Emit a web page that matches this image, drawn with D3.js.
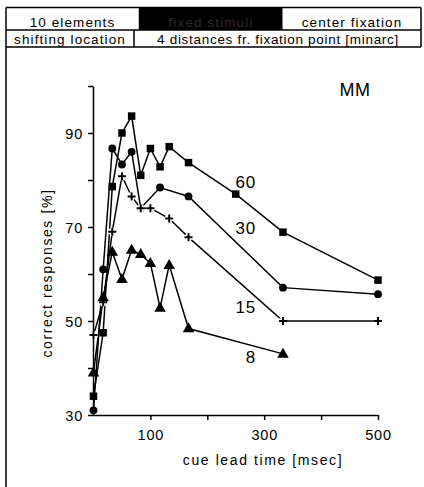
<!DOCTYPE html>
<html><head><meta charset="utf-8">
<script src="https://cdn.jsdelivr.net/npm/d3@7"></script>
<style>
html,body{margin:0;padding:0;background:#fff;}
svg{display:block;font-family:"Liberation Sans",Arial,sans-serif;}
</style></head>
<body>
<svg id="c" width="424" height="487"></svg>
<script>
// ---- data ----
const seriesNames = ["60", "30", "15", "8"];
const t60 = [0, 17, 33, 50, 67, 83, 100, 117, 133, 167, 250, 333, 500];
const v60 = [34, 47.5, 78.6, 90, 93.6, 81, 86.7, 82.8, 87.1, 83.7, 77, 68.9, 58.7];
const t30 = [0, 17, 33, 50, 67, 83, 117, 167, 333, 500];
const v30 = [31, 61, 86.7, 83.3, 86, 74, 78.4, 76.5, 57.1, 55.7];
const t15 = [0, 17, 33, 50, 67, 83, 100, 133, 167, 333, 500];
const v15 = [47, 54, 69, 80.8, 76.5, 74, 74, 71.8, 67.8, 50, 50];
const t8 = [0, 17, 33, 50, 67, 83, 100, 117, 133, 167, 333];
const v8 = [39, 55, 64.7, 58.9, 65.1, 64.2, 62.3, 52.8, 61.9, 48.4, 43];
const yTicks = [30, 40, 50, 60, 70, 80, 90, 100];
const yTickLabels = [30, 50, 70, 90];
const xTicks = [100, 200, 300, 400, 500];
const xTickLabels = [100, 300, 500];
const headerRow1 = ["10 elements", "fixed stimuli", "center fixation"];
const headerRow2 = ["shifting location", "4 distances fr. fixation point [minarc]"];
const subject = "MM";
const xTitle = "cue lead time [msec]";
const yTitle = "correct responses [%]";

const svg = d3.select("#c");

// ---- header ----
const hdr = svg.append("g").attr("stroke", "#000").attr("stroke-width", 1.5);
hdr.append("line").attr("x1", 6).attr("x2", 421).attr("y1", 7.5).attr("y2", 7.5);
hdr.append("line").attr("x1", 6).attr("x2", 421).attr("y1", 30).attr("y2", 30);
hdr.append("line").attr("x1", 6).attr("x2", 421).attr("y1", 47).attr("y2", 47);
hdr.append("line").attr("x1", 6).attr("x2", 6).attr("y1", 7.5).attr("y2", 487);
hdr.append("line").attr("x1", 421).attr("x2", 421).attr("y1", 7.5).attr("y2", 47);
hdr.append("line").attr("x1", 134).attr("x2", 134).attr("y1", 30).attr("y2", 47);
svg.append("rect").attr("x", 139.5).attr("y", 7.5).attr("width", 143).attr("height", 22.5).attr("fill", "#000");
hdr.append("line").attr("x1", 139.5).attr("x2", 139.5).attr("y1", 7.5).attr("y2", 30);

const htxt = svg.append("g").attr("font-size", 13.5).attr("text-anchor", "middle").attr("letter-spacing", 1.1);
htxt.append("text").attr("x", 72.5).attr("y", 27).text(headerRow1[0]);
htxt.append("text").attr("x", 211).attr("y", 27).attr("fill", "#2b2b2b").text(headerRow1[1]);
htxt.append("text").attr("x", 352).attr("y", 27).text(headerRow1[2]);
htxt.append("text").attr("x", 70).attr("y", 43.5).text(headerRow2[0]);
htxt.append("text").attr("x", 278).attr("y", 43.5).attr("letter-spacing", 0.7).text(headerRow2[1]);

// ---- scales ----
const x = d3.scaleLinear().domain([0, 500]).range([93.5, 378]);
const y = d3.scaleLinear().domain([30, 100]).range([415, 86]);

// ---- axes ----
const yAxis = d3.axisLeft(y).tickValues(yTicks).tickSize(5).tickSizeOuter(0)
  .tickFormat(d => yTickLabels.includes(d) ? d : "");
const gy = svg.append("g").attr("transform", "translate(93,0)").call(yAxis);
const xAxis = d3.axisBottom(x).tickValues(xTicks).tickSize(5).tickSizeOuter(0)
  .tickFormat(d => xTickLabels.includes(d) ? d : "");
const gx = svg.append("g").attr("transform", "translate(0,415)").call(xAxis);
gx.select(".domain").attr("d", "M93,0.5H378");
[gx, gy].forEach(g => {
  g.selectAll("path,line").attr("stroke", "#000").attr("stroke-width", 1.5);
  g.selectAll("text").attr("font-size", 14.5).attr("fill", "#000")
    .attr("font-family", "Liberation Sans, Arial, sans-serif").attr("letter-spacing", 0.8);
});
gy.selectAll("text").attr("x", -10).attr("dy", "0.36em");
gx.selectAll("text").attr("y", 15);

// titles
svg.append("text").attr("x", 263).attr("y", 465).attr("text-anchor", "middle")
  .attr("font-size", 14).attr("letter-spacing", 1.6).text(xTitle);
svg.append("text").attr("transform", "translate(52,273) rotate(-90)").attr("text-anchor", "middle")
  .attr("font-size", 14).attr("letter-spacing", 1.6).text(yTitle);
svg.append("text").attr("x", 355).attr("y", 96).attr("text-anchor", "middle")
  .attr("font-size", 18).attr("letter-spacing", 0.5).text(subject);

// ---- series ----
const series = [
  {name: seriesNames[0], t: t60, v: v60, m: "square"},
  {name: seriesNames[1], t: t30, v: v30, m: "circle"},
  {name: seriesNames[2], t: t15, v: v15, m: "plus"},
  {name: seriesNames[3], t: t8, v: v8, m: "triangle"}
];
const line = d3.line().x(d => x(d[0])).y(d => y(d[1]));
const plot = svg.append("g");
series.forEach(s => {
  const pts = s.t.map((t, i) => [t, s.v[i]]);
  plot.append("path").datum(pts).attr("d", line)
    .attr("fill", "none").attr("stroke", "#000").attr("stroke-width", 1.5);
});
series.forEach(s => {
  const pts = s.t.map((t, i) => [t, s.v[i]]);
  const g = plot.append("g");
  pts.forEach(p => {
    const cx = x(p[0]), cy = y(p[1]);
    if (s.m === "square") {
      g.append("path").attr("d", d3.symbol(d3.symbolSquare, 56)()).attr("transform", `translate(${cx},${cy})`).attr("fill", "#000");
    } else if (s.m === "circle") {
      g.append("path").attr("d", d3.symbol(d3.symbolCircle, 48)()).attr("transform", `translate(${cx},${cy})`).attr("fill", "#000");
    } else if (s.m === "triangle") {
      g.append("path").attr("d", d3.symbol(d3.symbolTriangle, 58)()).attr("transform", `translate(${cx},${cy + 0.5})`).attr("fill", "#000");
    } else {
      g.append("path").attr("d", "M-4,0H4M0,-4V4").attr("transform", `translate(${cx},${cy})`)
        .attr("stroke", "#fff").attr("stroke-width", 5).attr("stroke-linecap", "butt");
      g.append("path").attr("d", "M-4,0H4M0,-4V4").attr("transform", `translate(${cx},${cy})`)
        .attr("stroke", "#000").attr("stroke-width", 2);
    }
  });
});

// series labels
const labelPos = [{x: 256, y: 188}, {x: 256, y: 234}, {x: 256, y: 313}, {x: 256, y: 363}];
series.forEach((s, i) => {
  svg.append("text").attr("x", labelPos[i].x).attr("y", labelPos[i].y).attr("text-anchor", "end")
    .attr("font-size", 17).attr("letter-spacing", 0.8).text(s.name);
});
</script>
</body></html>
